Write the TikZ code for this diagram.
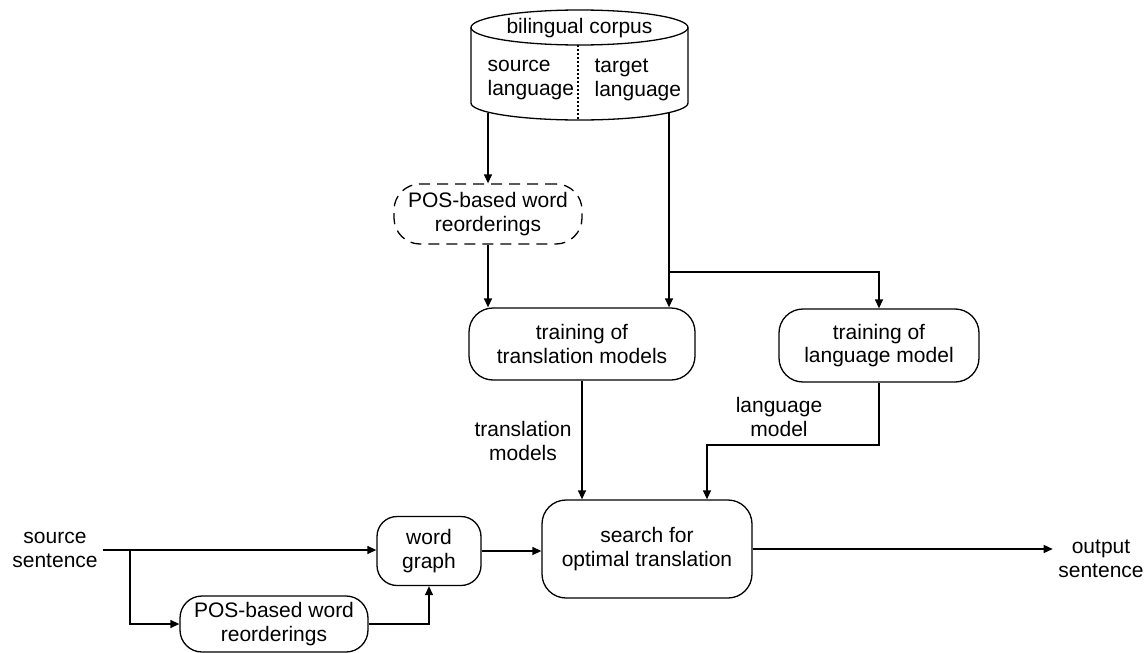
\documentclass[tikz,border=0pt]{standalone}
\usepackage{fontspec}
\setmainfont{Liberation Sans}
\usetikzlibrary{arrows.meta}
\begin{document}
\begin{tikzpicture}[x=1pt,y=-1pt,line width=1.3pt,
  every node/.style={font=\fontsize{21}{23.5}\selectfont, align=center, inner sep=0pt},
  proc/.style={draw, rounded corners=24pt},
  dashedproc/.style={draw, rounded corners=26pt, dash pattern=on 11pt off 7pt},
  lbl/.style={inner xsep=5pt},
  arr/.style={-{Triangle[length=9pt,width=8pt]}},
  dots/.style={line width=1.1pt, dash pattern=on 2pt off 2pt}
]
\useasboundingbox (0,0) rectangle (1144,653);

% bilingual corpus drawn as a cylinder
\draw (579.5,27.5) ellipse [x radius=108.5, y radius=17.5];
\draw (471,27.5) -- (471,103) arc [start angle=180, end angle=0, x radius=108.5, y radius=17] -- (688,27.5);
\draw[dots] (578,45) -- (578,120);
\node (corpus) at (579.5,28) {bilingual corpus};
\node[anchor=west, align=left] (srclang) at (487,80) {source\\language};
\node[anchor=west, align=left] (tgtlang) at (594,80) {target\\language};
\coordinate (srcout) at (488,112.5);
\coordinate (tgtout) at (669,112.5);
\coordinate (split) at (669,272);

% processing steps
\node[dashedproc, minimum width=188pt, minimum height=60pt] (reo) at (488,214) {POS-based word\\reorderings};
\node[proc, minimum width=226pt, minimum height=72pt] (trans) at (582,344) {training of\\translation models};
\node[proc, minimum width=200pt, minimum height=73pt] (lm) at (879,345.5) {training of\\language model};
\node[proc, minimum width=210pt, minimum height=98pt] (search) at (647,549) {search for\\optimal translation};
\node[proc, rounded corners=20pt, minimum width=104pt, minimum height=69pt] (wg) at (429,551) {word\\graph};
\node[proc, rounded corners=22pt, minimum width=188pt, minimum height=56pt] (pos) at (274,624) {POS-based word\\reorderings};

% free labels
\node[lbl] (src) at (55,550) {source\\sentence};
\node[lbl] (out) at (1101,559) {output\\sentence};
\node (tmlabel) at (523,441) {translation\\models};
\node (lmlabel) at (779,417) {language\\model};

% connectors
\draw[arr] (srcout) -- (srcout |- reo.north);
\draw[arr] (reo.south) -- (reo.south |- trans.north);
\draw[arr] (tgtout) -- (tgtout |- trans.north);
\draw[arr] (split) -| (lm.north);
\coordinate (lmdrop) at (707,445);
\draw[arr] (lm.south) |- (lmdrop) -- (lmdrop |- search.north);
\draw[arr] (trans.south) -- (trans.south |- search.north);
\draw[arr] (src.east) -- (src.east -| wg.west);
\coordinate (fork) at (130,550);
\draw[arr] (fork) |- (pos.west);
\draw[arr] (pos.east) -| (wg.south);
\draw[arr] (wg.east) -- (wg.east -| search.west);
\draw[arr] (search.east) -- (search.east -| out.west);
\end{tikzpicture}
\end{document}
